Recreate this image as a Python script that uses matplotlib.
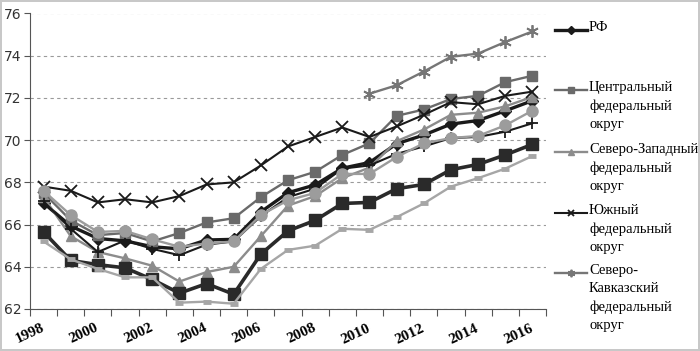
import matplotlib.pyplot as plt
import numpy as np
from matplotlib.lines import Line2D

years = np.arange(1998, 2017)
nan = np.nan

rf = [67.02, 65.93, 65.34, 65.23, 64.95, 64.85, 65.27, 65.30, 66.60, 67.51,
      67.88, 68.67, 68.94, 69.83, 70.24, 70.76, 70.93, 71.39, 71.87]
central = [67.5, 66.2, 65.5, 65.6, 65.2, 65.6, 66.1, 66.3, 67.3, 68.1,
           68.5, 69.3, 69.85, 71.15, 71.45, 71.95, 72.1, 72.75, 73.05]
north_west = [67.3, 65.45, 64.7, 64.4, 64.05, 63.3, 63.75, 64.0, 65.45, 66.9,
              67.35, 68.2, 68.7, 69.95, 70.5, 71.2, 71.3, 71.6, 72.05]
south = [67.8, 67.6, 67.05, 67.2, 67.05, 67.35, 67.9, 68.0, 68.8, 69.7,
         70.15, 70.6, 70.15, 70.65, 71.2, 71.8, 71.7, 72.1, 72.3]
north_caucasus = [nan] * 12 + [72.2, 72.6, 73.25, 73.95, 74.1, 74.65, 75.15]
volga = [67.1, 65.8, 64.7, 65.25, 64.85, 64.55, 65.05, 65.2, 66.4, 67.3,
         67.7, 68.65, 68.8, 69.35, 69.7, 70.1, 70.15, 70.4, 70.8]
ural = [67.6, 66.45, 65.65, 65.7, 65.3, 64.95, 65.1, 65.2, 66.45, 67.15,
        67.5, 68.4, 68.4, 69.2, 69.85, 70.1, 70.2, 70.7, 71.4]
siberia = [65.65, 64.3, 64.1, 63.95, 63.4, 62.75, 63.2, 62.7, 64.6, 65.7,
           66.2, 67.0, 67.05, 67.7, 67.9, 68.6, 68.85, 69.3, 69.8]
far_east = [65.2, 64.35, 63.9, 63.5, 63.5, 62.3, 62.35, 62.25, 63.9, 64.8,
            65.0, 65.8, 65.75, 66.35, 67.0, 67.8, 68.2, 68.65, 69.25]

legend_labels = ['РФ', 'Центральный\nфедеральный\nокруг',
                 'Северо-Западный\nфедеральный\nокруг',
                 'Южный\nфедеральный\nокруг',
                 'Северо-\nКавказский\nфедеральный\nокруг']

fig = plt.figure(figsize=(7, 3.51), dpi=100)
fig.patch.set_edgecolor('#c8c8c8')
fig.patch.set_linewidth(1.5)
ax = fig.add_axes([30 / 700, 1 - 309 / 351, 516 / 700, 295.5 / 351])

asterisk = (6, 2, 0)
styles = [
    (rf, dict(color='#1a1a1a', lw=2.4, marker='D', ms=6.5)),
    (central, dict(color='#6a6a6a', lw=1.7, marker='s', ms=7)),
    (north_west, dict(color='#8c8c8c', lw=1.7, marker='^', ms=7.5)),
    (south, dict(color='#1a1a1a', lw=1.5, marker='x', ms=8, mew=1.3)),
    (north_caucasus, dict(color='#767676', lw=1.7, marker=asterisk, ms=9, mew=1.3)),
    (volga, dict(color='#1a1a1a', lw=1.5, marker='+', ms=9, mew=1.3)),
    (ural, dict(color='#9c9c9c', lw=1.7, marker='o', ms=8)),
    (siberia, dict(color='#2a2a2a', lw=2.6, marker='s', ms=8.5)),
    (far_east, dict(color='#a6a6a6', lw=1.7, marker='_', ms=6, mew=3.5)),
]
for vals, st in styles:
    ax.plot(years, vals, **st)

ax.set_xlim(1997.5, 2016.5)
ax.set_ylim(62, 76)
ax.set_yticks(np.arange(62, 77, 2))
ax.yaxis.grid(True, linestyle=(0, (3, 3)), color='#9a9a9a', lw=0.8)
ax.set_axisbelow(True)
for s in ['top', 'right']:
    ax.spines[s].set_visible(False)
ax.spines['left'].set_color('#555555')
ax.spines['bottom'].set_color('#555555')
ax.tick_params(axis='y', length=4, color='#555555', labelsize=10, labelcolor='#333333', pad=2)
for lab in ax.get_yticklabels():
    lab.set_family('DejaVu Sans')

ax.set_xticks(np.arange(1997.5, 2017, 1))
ax.set_xticklabels([])
ax.tick_params(axis='x', which='major', length=5, color='#555555')
ax.set_xticks(years[::2] - 0.1, minor=True)
ax.set_xticklabels([str(y) for y in years[::2]], minor=True, rotation=25,
                   ha='right', va='top', rotation_mode='anchor',
                   family='Liberation Serif', fontweight='bold', fontsize=11)
ax.tick_params(axis='x', which='minor', length=0, pad=9)

# legend, drawn by hand (only the first five series fit in the picture)
handle_y = [30, 90, 152, 213, 273]
for (vals, st), lab, hy in zip(styles[:5], legend_labels, handle_y):
    yf = 1 - hy / 351
    ln = Line2D([555 / 700, 587 / 700], [yf, yf], transform=fig.transFigure,
                color=st['color'], lw=st['lw'])
    fig.add_artist(ln)
    mk = Line2D([571 / 700], [yf], transform=fig.transFigure, color=st['color'],
                marker=st['marker'], ms=st['ms'] * 0.6, mew=st.get('mew', 1), lw=0)
    fig.add_artist(mk)
    fig.text(589 / 700, yf + 9 / 351, lab, family='Liberation Serif', fontsize=10.5,
             va='top', ha='left', linespacing=1.5)

fig.savefig('out.png', dpi=100)
